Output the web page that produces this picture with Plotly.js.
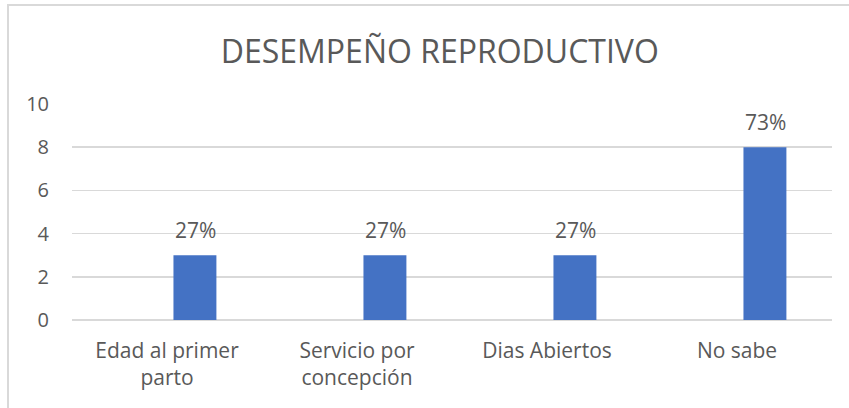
<!DOCTYPE html>
<html>
<head>
<meta charset="utf-8">
<script src="https://cdn.plot.ly/plotly-3.0.1.min.js"></script>
<style>
html,body{margin:0;padding:0;background:#fff;overflow:hidden;}
#wrap{position:relative;width:849px;height:408px;}
#chart{width:849px;height:408px;}
#frame{position:absolute;left:7px;top:4px;width:900px;height:500px;border-left:2px solid #d9d9d9;border-top:2px solid #d9d9d9;pointer-events:none;}
</style>
</head>
<body>
<div id="wrap"><div id="chart"></div><div id="frame"></div></div>
<script>
const categories = ["Edad al primer<br>parto", "Servicio por<br>concepción", "Dias Abiertos", "No sabe"];
const values = [3, 3, 3, 8];
const labels = ["27%", "27%", "27%", "73%"];
const yTicks = [0, 2, 4, 6, 8, 10];
const titleText = "DESEMPEÑO REPRODUCTIVO";

const textColor = "#595959";
const fontFam = "'Open Sans', 'Noto Sans', sans-serif";

const barWidth = 0.226;
const barOffset = 0.034;

const trace = {
  type: "bar",
  x: categories,
  y: values,
  width: barWidth,
  offset: barOffset,
  marker: {color: "#4472c4", line: {width: 0}},
  hoverinfo: "none"
};

const annotations = categories.map((c, i) => ({
  x: c, y: values[i], xref: "x", yref: "y",
  text: labels[i], showarrow: false,
  xanchor: "center", xshift: 28,
  yanchor: "bottom", yshift: 9,
  font: {family: fontFam, size: 21, color: textColor}
}));

const layout = {
  width: 849, height: 408,
  margin: {l: 72, r: 17, t: 104, b: 88},
  paper_bgcolor: "#ffffff",
  plot_bgcolor: "#ffffff",
  showlegend: false,
  title: {
    text: titleText,
    x: 0.518, xref: "container", xanchor: "center",
    y: 0.872, yref: "container", yanchor: "middle",
    font: {family: fontFam, size: 32, color: textColor}
  },
  xaxis: {
    type: "category",
    showgrid: false,
    showline: false,
    zeroline: false,
    ticks: "",
    tickfont: {family: fontFam, size: 21, color: textColor},
    ticklabelstandoff: 16
  },
  yaxis: {
    range: [0, 10],
    tickvals: yTicks,
    ticktext: yTicks.map(String),
    showgrid: true,
    gridcolor: "#d9d9d9",
    gridwidth: 1.5,
    zeroline: true,
    zerolinecolor: "#d9d9d9",
    zerolinewidth: 1.5,
    showline: false,
    ticks: "",
    ticklabelstandoff: 22,
    tickfont: {family: fontFam, size: 20, color: textColor}
  },
  annotations: annotations
};

Plotly.newPlot("chart", [trace], layout, {displayModeBar: false, staticPlot: true});
</script>
</body>
</html>
